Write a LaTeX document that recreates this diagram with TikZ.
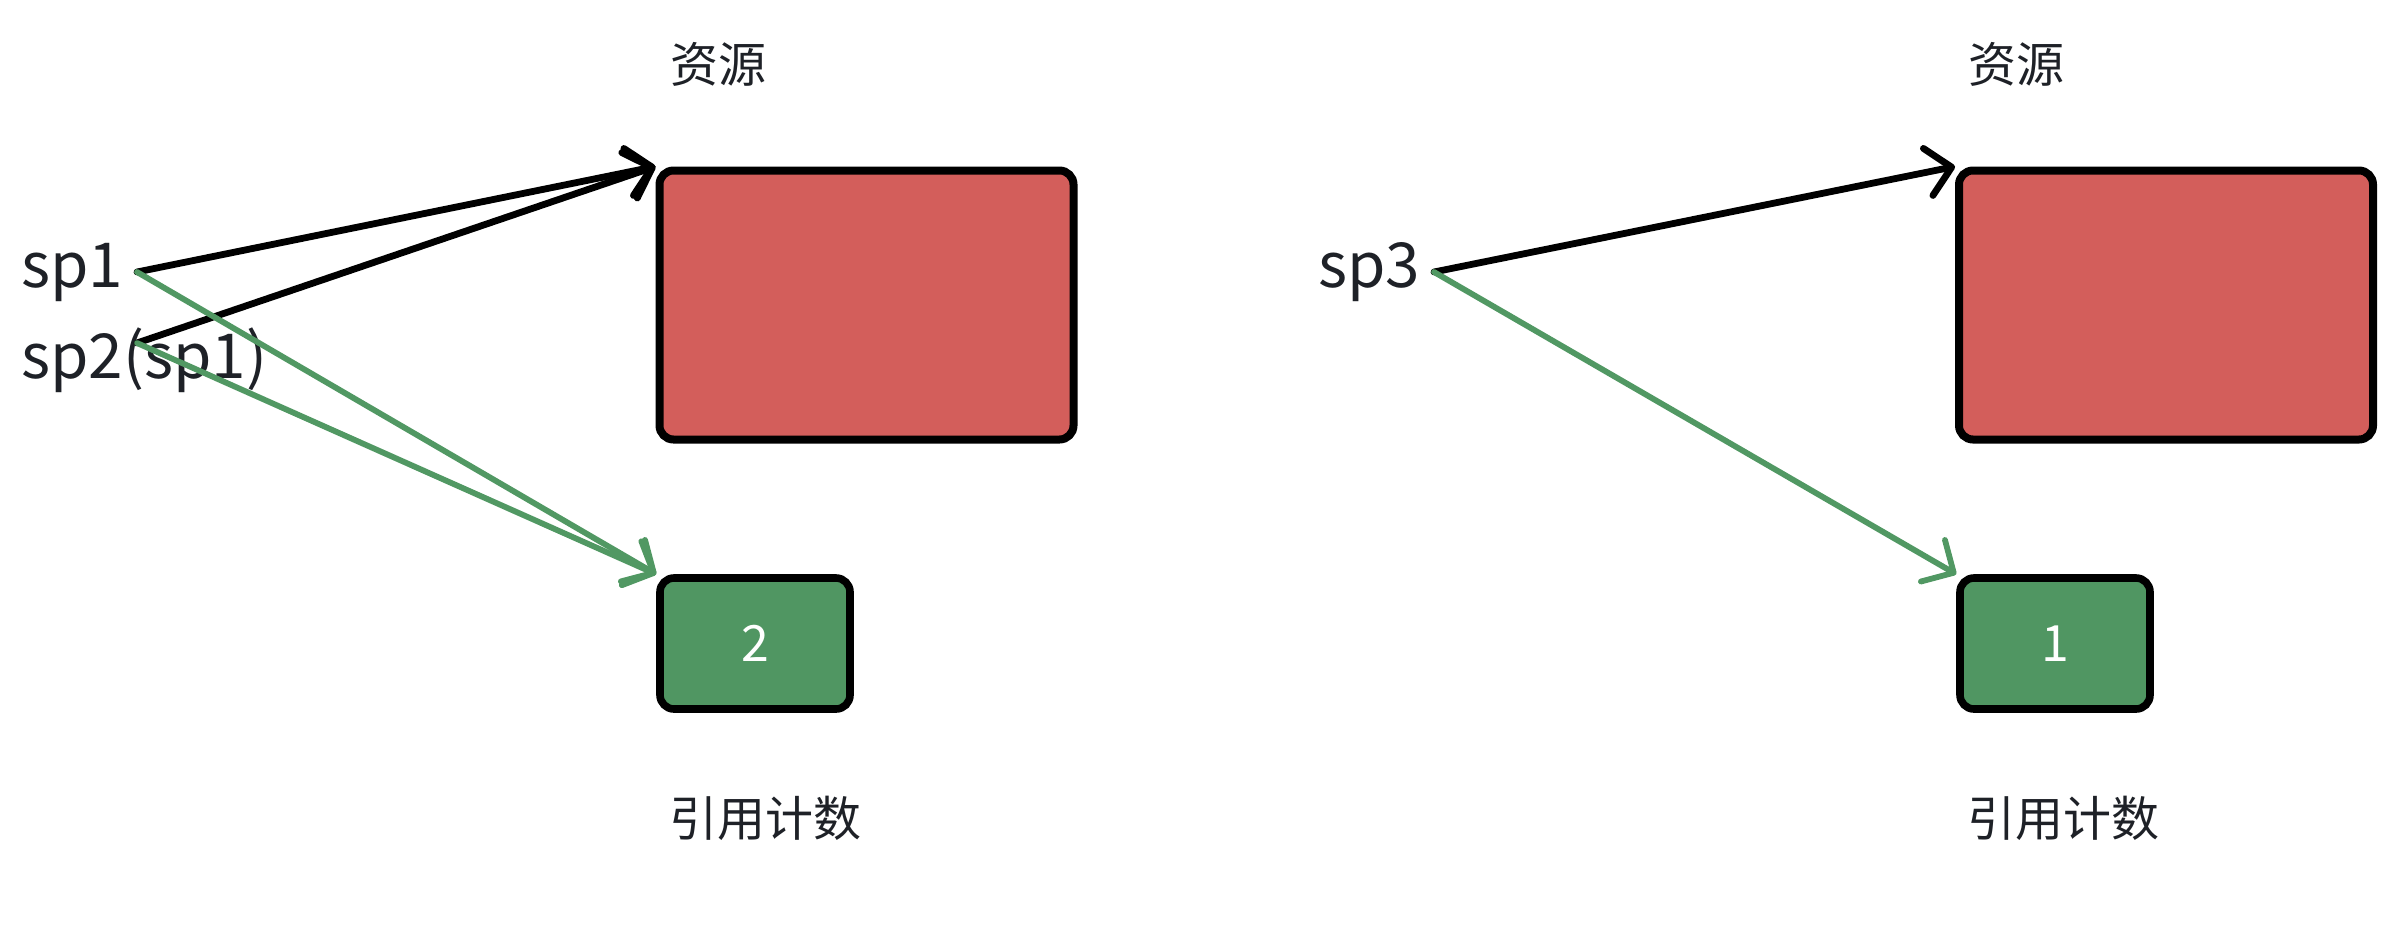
\documentclass[tikz,border=0pt]{standalone}
\usepackage{fontspec}
\setmainfont{Noto Sans CJK SC}
\usetikzlibrary{arrows.meta}
\definecolor{redfill}{HTML}{D35E5B}
\definecolor{greenfill}{HTML}{509662}
\definecolor{greenline}{HTML}{519863}
\definecolor{txt}{HTML}{1E2127}
\begin{document}
\begin{tikzpicture}[x=0.5pt,y=-0.5pt,
  resbox/.style={draw=black, line width=4pt, fill=redfill, rounded corners=7pt,
    minimum width=207pt, minimum height=134.5pt, inner sep=0pt},
  cntbox/.style={draw=black, line width=3.8pt, fill=greenfill, rounded corners=7pt,
    minimum width=95pt, minimum height=65.5pt, inner sep=0pt, text=white,
    font=\fontsize{25}{29}\selectfont},
  varlabel/.style={anchor=base west, inner sep=0pt, text=txt,
    font=\fontsize{31}{36}\selectfont},
  cjklabel/.style={inner sep=0pt, text=txt, font=\fontsize{24}{28}\selectfont},
  ptr/.style={line width=3.4pt, draw=black, line cap=round, line join=round,
    -{Straight Barb[length=12pt,width=24pt,line cap=round,line join=round]}},
  cnt/.style={line width=2.9pt, draw=greenline, line cap=round, line join=round,
    -{Straight Barb[length=12pt,width=24pt,line cap=round,line join=round]}}
]
\useasboundingbox (0,0) rectangle (2393,933);

% left scene
\node[resbox] (r1) at (866.5,305) {};
\node[cntbox] (c1) at (755,643.5) {2};
\node[cjklabel] (t1) at (718,64) {资源};
\node[cjklabel] (k1) at (765,818) {引用计数};
\node[varlabel] (v1) at (21,287) {sp1};
\node[varlabel] (v2) at (21,378) {sp2(sp1)};
\coordinate (s1) at (137,272);
\coordinate (s2) at (137,343);

% right scene
\node[resbox] (r2) at (2166,305) {};
\node[cntbox] (c2) at (2055,643.5) {1};
\node[cjklabel] (t2) at (2016,64) {资源};
\node[cjklabel] (k2) at (2063,818) {引用计数};
\node[varlabel] (v3) at (1318,287) {sp3};
\coordinate (s3) at (1434,272);

% pointers
\draw[ptr] (s1) -- (r1.north west);
\draw[ptr] (s2) -- (r1.north west);
\draw[ptr] (s3) -- (r2.north west);
\draw[cnt] (s1) -- (c1.north west);
\draw[cnt] (s2) -- (c1.north west);
\draw[cnt] (s3) -- (c2.north west);
\end{tikzpicture}
\end{document}
